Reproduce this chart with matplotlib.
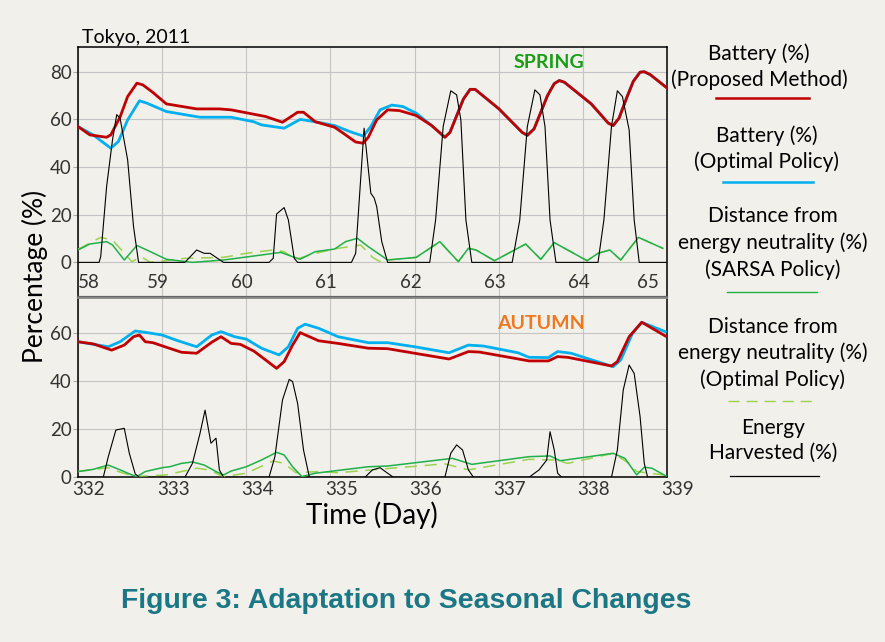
import matplotlib
matplotlib.use('Agg')
import matplotlib.pyplot as plt
import matplotlib.transforms as mtrans
from matplotlib.lines import Line2D

# ---------------- data ----------------
spring_ticks = [58, 59, 60, 61, 62, 63, 64, 65]
autumn_ticks = [332, 333, 334, 335, 336, 337, 338, 339]
spring_yticks = [0, 20, 40, 60, 80]
autumn_yticks = [0, 20, 40, 60]

# Spring: battery, proposed method (red)
sp_red_t = [58.0, 58.14, 58.34, 58.39, 58.5, 58.59, 58.7, 58.77, 58.89, 59.05, 59.41, 59.68, 59.82,
            60.23, 60.43, 60.61, 60.68, 60.82, 61.05, 61.18, 61.3, 61.39, 61.45, 61.55, 61.68, 61.82,
            62.02, 62.2, 62.36, 62.42, 62.5, 62.58, 62.66, 62.72, 63.0, 63.28, 63.34, 63.42, 63.5,
            63.58, 63.66, 63.72, 63.78, 64.1, 64.3, 64.36, 64.43, 64.52, 64.6, 64.68, 64.73, 64.8, 65.0]
sp_red_v = [57, 53.5, 52.5, 53.5, 61, 69.6, 75.2, 74.5, 71.3, 66.5, 64.4, 64.4, 64,
            61.2, 58.8, 63, 63, 59, 56.7, 53.5, 50.5, 50, 52.5, 59.8, 64, 63.7,
            61.6, 57.5, 52.5, 54.5, 61.5, 68.5, 72.6, 72.6, 64.5, 54.5, 53.3, 56, 63,
            70, 75, 76.3, 75.6, 66.5, 58.5, 57.4, 60.5, 69, 76, 79.8, 80, 78.8, 73.2]

# Spring: battery, optimal policy (blue)
sp_blue_t = [58.0, 58.18, 58.39, 58.48, 58.59, 58.73, 58.82, 59.05, 59.45, 59.82, 60.09, 60.18,
             60.45, 60.64, 60.82, 61.05, 61.23, 61.39, 61.48, 61.59, 61.73, 61.86, 62.02, 62.2,
             62.36, 62.42, 62.5, 62.58, 62.66, 62.72, 63.0, 63.28, 63.34, 63.42, 63.5, 63.58,
             63.66, 63.72, 63.78, 64.1, 64.3, 64.36, 64.43, 64.52, 64.6, 64.68, 64.73, 64.8, 65.0]
sp_blue_v = [57, 53.5, 47.9, 50.7, 59.8, 67.8, 66.8, 63.3, 60.9, 60.9, 59, 57.7,
             56.3, 60, 59, 57.4, 54.9, 53, 57, 64, 66, 65.4, 62.6, 57.5,
             52.5, 54.5, 61.5, 68.5, 72.6, 72.6, 64.5, 54.5, 53.3, 56, 63, 70,
             75, 76.3, 75.6, 66.5, 58.5, 57.4, 60.5, 69, 76, 79.8, 80, 78.8, 73.2]

# Spring: energy harvested (black)
sp_eh_t = [58.0, 58.25, 58.27, 58.34, 58.41, 58.46, 58.5, 58.59, 58.66, 58.72, 59.27, 59.41, 59.5,
           59.57, 59.73, 60.27, 60.32, 60.36, 60.45, 60.5, 60.57, 60.61, 61.25, 61.3, 61.4, 61.48,
           61.52, 61.55, 61.61, 61.68, 62.18, 62.25, 62.34, 62.43, 62.5, 62.55, 62.61, 62.68, 63.16,
           63.25, 63.34, 63.43, 63.49, 63.55, 63.61, 63.68, 64.18, 64.25, 64.34, 64.41, 64.47, 64.55,
           64.61, 64.67, 65.0]
sp_eh_v = [0, 0, 2.4, 31.8, 51.4, 62, 60.5, 43, 15, 0, 0, 5.2, 3.8,
           3.8, 0, 0, 1.7, 20.3, 23, 17.8, 1.7, 0, 0, 3.8, 56.3, 29,
           27, 23.4, 8.7, 0, 0, 17.8, 57, 72, 70.3, 59.8, 17.8, 0, 0,
           17.8, 57, 72.4, 70.3, 57, 17.8, 0, 0, 17.8, 57, 72, 69.6, 55.6,
           17.8, 0, 0]

# Spring: distance from energy neutrality, SARSA (green solid)
sp_sarsa_t = [58.0, 58.14, 58.34, 58.41, 58.55, 58.7, 58.86, 59.05, 59.36, 59.73, 60.18, 60.41,
              60.55, 60.64, 60.82, 61.05, 61.18, 61.32, 61.45, 61.68, 62.02, 62.3, 62.52, 62.64,
              62.73, 62.95, 63.32, 63.5, 63.66, 64.05, 64.18, 64.32, 64.45, 64.66, 64.95]
sp_sarsa_v = [5.2, 7.7, 8.7, 7.3, 1, 7.1, 4.5, 1.3, 0, 1, 3.1, 4.2,
              2.4, 1.3, 4.5, 5.6, 8.7, 10.1, 6.6, 1, 2.1, 8.7, 0.3, 5.9,
              5.2, 0.7, 7.7, 1.3, 8.3, 0.7, 3.8, 5.2, 1, 10.5, 5.9]

# Spring: distance from energy neutrality, optimal (green dashed)
sp_opt_t = [58.0, 58.27, 58.41, 58.64, 58.75, 58.86, 59.27, 59.73, 60.0, 60.32, 60.45, 60.59,
            60.82, 61.09, 61.36, 61.5, 61.59, 61.68, 62.02, 62.3, 62.52, 62.64, 62.73, 62.95,
            63.32, 63.5, 63.66, 64.05, 64.18, 64.32, 64.45, 64.66, 64.95]
sp_opt_v = [5.5, 10.5, 9.4, 0.3, 2.4, 0, 1.7, 2.1, 3.8, 5.2, 4.5, 1.3,
            3.8, 5.9, 7.3, 2.1, 0.3, 1, 2.1, 8.7, 0.3, 5.9, 5.2, 0.7,
            7.7, 1.3, 8.3, 0.7, 3.8, 5.2, 1, 10.5, 5.9]

# Autumn: battery, proposed method (red)
au_red_t = [332.0, 332.18, 332.4, 332.55, 332.66, 332.73, 332.8, 332.89, 333.05, 333.23, 333.41,
            333.59, 333.7, 333.82, 333.93, 334.09, 334.23, 334.36, 334.45, 334.55, 334.64, 334.73,
            334.86, 335.09, 335.45, 335.68, 336.0, 336.41, 336.64, 336.77, 337.14, 337.36, 337.59,
            337.7, 337.82, 338.34, 338.41, 338.55, 338.7, 338.98]
au_red_v = [56.5, 55.6, 53, 55.1, 58.6, 59.3, 56.5, 56.1, 54.2, 52.1, 51.7,
            56.3, 58.6, 55.8, 55.4, 52.6, 48.9, 45.4, 48.2, 55.1, 60.3, 58.9,
            56.9, 55.8, 53.8, 53.6, 51.7, 49.3, 52.4, 52.2, 49.9, 48.5, 48.5,
            50.3, 50, 46.4, 48.2, 58.6, 64.6, 58.9]

# Autumn: battery, optimal policy (blue)
au_blue_t = [332.0, 332.36, 332.5, 332.68, 332.82, 333.0, 333.18, 333.41, 333.59, 333.7, 333.86,
             334.0, 334.18, 334.39, 334.5, 334.61, 334.7, 334.86, 335.0, 335.09, 335.45, 335.68,
             336.0, 336.41, 336.64, 336.82, 337.23, 337.36, 337.59, 337.7, 337.86, 338.36, 338.45,
             338.59, 338.7, 338.98]
au_blue_v = [56.5, 54.4, 56.5, 61, 60.3, 59.3, 57, 54.4, 59.3, 60.7, 58.6,
             57.6, 53.8, 51, 54.4, 62.1, 63.8, 62.1, 60, 58.6, 56.1, 56.1,
             54.4, 51.9, 55.1, 54.7, 51.9, 50, 49.9, 52.4, 51.7, 46.1, 48.9,
             60, 64.6, 60.7]

# Autumn: energy harvested (black)
au_eh_t = [332.0, 332.3, 332.36, 332.45, 332.55, 332.61, 332.68, 332.73, 333.27, 333.36, 333.45,
           333.51, 333.58, 333.64, 333.68, 333.73, 334.27, 334.34, 334.43, 334.51, 334.55, 334.61,
           334.68, 334.75, 335.41, 335.5, 335.59, 335.68, 335.75, 336.36, 336.43, 336.5, 336.57,
           336.64, 336.7, 337.36, 337.48, 337.57, 337.61, 337.66, 337.7, 337.75, 338.34, 338.41,
           338.48, 338.55, 338.61, 338.68, 338.73, 338.77, 339.0]
au_eh_v = [0, 0, 8.6, 19.7, 20.4, 10, 1.4, 0, 0, 5.8, 18.3,
           28, 14.2, 16.3, 3.1, 0, 0, 8.6, 32.2, 40.8, 39.9, 30.8,
           11.4, 0, 0, 3.1, 4, 1.7, 0, 0, 10, 13.5, 11.4,
           3.1, 0, 0, 3.1, 7.2, 19, 11.4, 1.7, 0, 0, 11.4,
           36.4, 46.8, 43.3, 25.3, 5.8, 0, 0]

# Autumn: distance from energy neutrality, SARSA (green solid)
au_sarsa_t = [332.0, 332.18, 332.36, 332.5, 332.64, 332.7, 332.8, 333.0, 333.09, 333.23, 333.36,
              333.5, 333.64, 333.73, 333.82, 334.0, 334.18, 334.36, 334.45, 334.55, 334.66, 334.82,
              335.45, 335.68, 336.45, 336.68, 337.36, 337.61, 337.73, 338.36, 338.5, 338.64,
              338.73, 338.82, 339.0]
au_sarsa_v = [2.4, 3.3, 5.1, 3.1, 1, 0.3, 2.4, 4, 4.4, 5.8, 6.4,
              5.1, 2.4, 1, 2.6, 4.4, 7.2, 10.4, 9.3, 4.4, 0.3, 1.7,
              4.4, 4.7, 7.9, 5.4, 8.6, 8.9, 6.9, 10, 7.9, 1,
              4.2, 3.8, 0.3]

# Autumn: distance from energy neutrality, optimal (green dashed)
au_opt_t = [332.0, 332.36, 332.52, 332.68, 333.05, 333.41, 333.55, 333.73, 334.0, 334.32, 334.45,
            334.59, 334.86, 335.09, 335.55, 336.36, 336.64, 337.36, 337.68, 337.82, 338.36, 338.55,
            338.64, 338.95]
au_opt_v = [2.4, 4, 1.9, 0.3, 1, 3.8, 3.1, 0.3, 1.7, 6.8, 5.8,
            1.9, 2.4, 1.9, 3.3, 5.6, 3.1, 7.5, 7.2, 5.8, 10, 5.8,
            2.4, 1]

legend_labels = [
    ["Battery (%)", "(Proposed Method)"],
    ["Battery (%)", "(Optimal Policy)"],
    ["Distance from", "energy neutrality (%)", "(SARSA Policy)"],
    ["Distance from", "energy neutrality (%)", "(Optimal Policy)"],
    ["Energy", "Harvested (%)"],
]

# ---------------- style ----------------
BG = '#f2f0ea'
RED = '#c00000'
BLUE = '#00b0f0'
GREEN = '#1fb04a'
LGREEN = '#9bd250'
GRID = '#c4c4c4'
FONT = 'Lato'
W, H = 885, 642

fig = plt.figure(figsize=(W / 100, H / 100), dpi=100, facecolor=BG)


def fx(px):
    return px / W


def fy(py):
    return 1 - py / H


ax1 = fig.add_axes([fx(78), fy(296.7), fx(667) - fx(78), (296.7 - 46.7) / H])
ax2 = fig.add_axes([fx(78), fy(477.3), fx(667) - fx(78), (477.3 - 298.3) / H])


def draw(ax, red, blue, eh, sarsa, opt):
    ax.set_facecolor(BG)
    ax.plot(*opt, color=LGREEN, lw=1.1, dashes=(8, 5), zorder=3)
    ax.plot(*sarsa, color=GREEN, lw=1.1, zorder=4)
    ax.plot(*blue, color=BLUE, lw=2.0, zorder=5, solid_joinstyle='round')
    ax.plot(*red, color=RED, lw=2.0, zorder=6, solid_joinstyle='round')
    ax.plot(*eh, color='black', lw=0.8, zorder=7)
    ax.grid(True, color=GRID, lw=0.8, zorder=0)
    ax.set_axisbelow(True)
    for s in ax.spines.values():
        s.set_color('black')
        s.set_linewidth(1.1)
    ax.tick_params(axis='y', length=3.6, width=0.8, color='#aaaaaa', pad=1,
                   labelsize=13.5, labelcolor='#333333')


draw(ax1, (sp_red_t, sp_red_v), (sp_blue_t, sp_blue_v), (sp_eh_t, sp_eh_v),
     (sp_sarsa_t, sp_sarsa_v), (sp_opt_t, sp_opt_v))
draw(ax2, (au_red_t, au_red_v), (au_blue_t, au_blue_v), (au_eh_t, au_eh_v),
     (au_sarsa_t, au_sarsa_v), (au_opt_t, au_opt_v))

ax1.set_xlim(58, 65)
ax1.set_ylim(-14.4, 90.5)
ax1.set_yticks(spring_yticks)
ax1.set_xticks(spring_ticks)
ax1.set_xticklabels([str(t) for t in spring_ticks], fontfamily=FONT)
ax1.tick_params(axis='x', length=0, pad=-16.5, labelsize=13.5, labelcolor='#333333')
ax1.spines['bottom'].set_color('#666666')
ax1.spines['bottom'].set_linewidth(1.6)
xl = ax1.get_xticklabels()
for i, lab in enumerate(xl):
    if i == 0:
        lab.set_ha('left')
        dx = 0.0
    elif i == len(xl) - 1:
        lab.set_ha('right')
        dx = -8
    else:
        dx = -4
    lab.set_transform(lab.get_transform() + mtrans.ScaledTranslation(dx / 100, 0, fig.dpi_scale_trans))

ax2.set_xlim(332, 339)
ax2.set_ylim(0, 74.6)
ax2.set_yticks(autumn_yticks)
ax2.set_xticks(autumn_ticks)
ax2.set_xticklabels([str(t) for t in autumn_ticks], fontfamily=FONT)
ax2.tick_params(axis='x', length=0, pad=3, labelsize=13.5, labelcolor='#333333')
ax2.spines['top'].set_color('#888888')
ax2.spines['top'].set_linewidth(1.3)
for lab in ax2.get_xticklabels():
    lab.set_transform(lab.get_transform() + mtrans.ScaledTranslation(11 / 100, 0, fig.dpi_scale_trans))
for lab in ax1.get_yticklabels() + ax2.get_yticklabels():
    lab.set_fontfamily(FONT)

# panel annotations
ax1.text(0.86, 0.972, 'SPRING', transform=ax1.transAxes, ha='right', va='top',
         fontfamily=FONT, fontweight='bold', fontsize=14, color='#1a9e1a')
ax2.text(0.86, 0.905, 'AUTUMN', transform=ax2.transAxes, ha='right', va='top',
         fontfamily=FONT, fontweight='bold', fontsize=14, color='#f07820')

fig.text(fx(82), fy(37), 'Tokyo, 2011', ha='left', va='center', fontfamily=FONT,
         fontsize=14, color='black')
fig.text(fx(34.5), fy(276), 'Percentage (%)', rotation=90, ha='center', va='center',
         fontfamily=FONT, fontsize=19, color='black')
fig.text(fx(372), fy(515), 'Time (Day)', ha='center', va='center',
         fontfamily=FONT, fontsize=20, color='black')
fig.text(fx(406), fy(601), 'Figure 3: Adaptation to Seasonal Changes', ha='center', va='center',
         fontfamily='Liberation Sans', fontweight='bold', fontsize=20.4, color='#1b7785')

# legend (manual, right side)
leg_text_x = [759, 767, 773, 773, 773]
leg_text_y = [[53.3, 80], [136, 161.7], [216, 243, 270], [326.7, 352.7, 380], [427.7, 453.3]]
leg_line = [((715.7, 809.3), 98.3, RED, 1.8, None),
            ((723, 813), 182.3, BLUE, 1.8, None),
            ((727, 817), 292.3, GREEN, 1.0, None),
            ((728, 818), 401, LGREEN, 1.0, (8, 5)),
            ((730, 819), 475.7, 'black', 0.9, None)]
for lines, xc, ys in zip(legend_labels, leg_text_x, leg_text_y):
    for s, y in zip(lines, ys):
        fig.text(fx(xc), fy(y), s, ha='center', va='center', fontfamily=FONT,
                 fontsize=15, color='black')
for (x0, x1), y, c, lw, d in leg_line:
    ln = Line2D([fx(x0), fx(x1)], [fy(y), fy(y)], transform=fig.transFigure, color=c, lw=lw)
    if d:
        ln.set_dashes(d)
    fig.add_artist(ln)

fig.savefig('out.png', dpi=100, facecolor=BG)
